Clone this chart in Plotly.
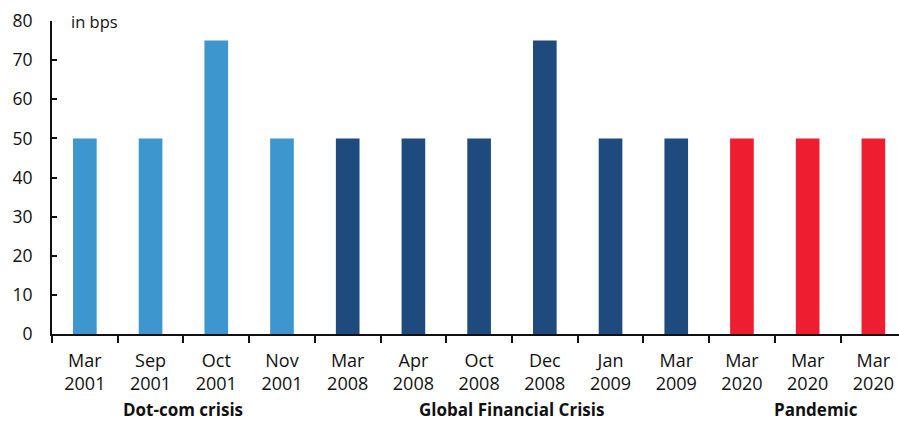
import plotly.graph_objects as go

# Fed rate cuts of 50bp or more, grouped by episode
months = ["Mar", "Sep", "Oct", "Nov", "Mar", "Apr", "Oct", "Dec", "Jan", "Mar", "Mar", "Mar", "Mar"]
years = ["2001", "2001", "2001", "2001", "2008", "2008", "2008", "2008", "2009", "2009", "2020", "2020", "2020"]
cuts_bps = [50, 50, 75, 50, 50, 50, 50, 75, 50, 50, 50, 50, 50]
episode = ["dotcom"] * 4 + ["gfc"] * 6 + ["pandemic"] * 3

episode_labels = {"dotcom": "Dot-com crisis", "gfc": "Global Financial Crisis", "pandemic": "Pandemic"}
episode_colors = {"dotcom": "#3D97CE", "gfc": "#1F4A7D", "pandemic": "#EE1D30"}

tick_text = [f"{m}<br>{y}" for m, y in zip(months, years)]
x_pos = list(range(len(cuts_bps)))

fig = go.Figure(
    go.Bar(
        x=x_pos,
        y=cuts_bps,
        width=0.36,
        marker=dict(color=[episode_colors[e] for e in episode], line=dict(width=0)),
        hoverinfo="skip",
    )
)

font_family = "Open Sans"

# episode captions centred under each group of bars
annotations = []
for key, label in episode_labels.items():
    idx = [i for i, e in enumerate(episode) if e == key]
    centre = (idx[0] + idx[-1]) / 2
    if key == "pandemic":
        centre += 0.12
    annotations.append(
        dict(
            x=centre, xref="x", y=-0.241, yref="paper",
            text=f"<b>{label}</b>", showarrow=False,
            font=dict(family=font_family, size=17, color="#111111"),
            xanchor="center", yanchor="middle", borderpad=0,
        )
    )

annotations.append(
    dict(
        x=0.02, xref="paper", y=1.0, yref="paper",
        text="in bps", showarrow=False,
        font=dict(family=font_family, size=16.5, color="#111111"),
        xanchor="left", yanchor="middle",
    )
)

fig.update_layout(
    width=899, height=422,
    margin=dict(l=52, r=0, t=21, b=88),
    plot_bgcolor="white", paper_bgcolor="white",
    showlegend=False,
    font=dict(family=font_family, size=17, color="#111111"),
    annotations=annotations,
    xaxis=dict(
        tickmode="array", tickvals=x_pos, ticktext=tick_text,
        range=[-0.5, 12.39],
        showline=True, linecolor="#111111", linewidth=2,
        ticks="", ticklabelstandoff=9,
        # tick marks sit on the boundaries between categories
        minor=dict(tick0=0.5, dtick=1, ticks="outside", ticklen=7, tickwidth=2,
                   tickcolor="#111111", showgrid=False),
        showgrid=False, zeroline=False,
        tickfont=dict(family=font_family, size=18, color="#111111"),
    ),
    yaxis=dict(
        range=[0, 80], dtick=10,
        showline=True, linecolor="#111111", linewidth=2,
        ticks="inside", ticklen=5, tickwidth=2, tickcolor="#111111",
        ticklabelstandoff=14,
        showgrid=False, zeroline=False,
        tickfont=dict(family=font_family, size=17.5, color="#111111"),
    ),
)

fig.write_html("out.html")
